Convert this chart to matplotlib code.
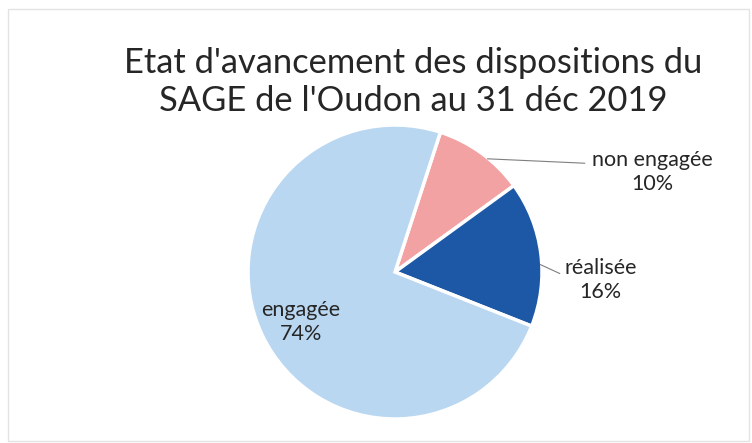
import matplotlib.pyplot as plt
from matplotlib.patches import Rectangle

# data
labels = ["non engagée", "réalisée", "engagée"]
shares = [10, 16, 74]
colors = ["#F3A2A3", "#1D58A7", "#BAD7F2"]
title = "Etat d'avancement des dispositions du\nSAGE de l'Oudon au 31 déc 2019"

plt.rcParams['font.family'] = ['Lato', 'DejaVu Sans']

fig = plt.figure(figsize=(7.52, 4.43), dpi=100)
fig.patches.append(Rectangle((0.011, 0.005), 0.985, 0.975, transform=fig.transFigure,
                             fill=False, edgecolor="#e3e3e3", linewidth=1))

fig.text(0.55, 0.815, title, ha='center', va='center', fontsize=24.8,
         color="#262626", linespacing=1.23)

# pie axes (square, centred on the pie)
r_px = 147
cx, cy = 395, 272
ax = fig.add_axes([(cx - r_px) / 752, (443 - cy - r_px) / 443, 2 * r_px / 752, 2 * r_px / 443])
wedges, _ = ax.pie(shares, colors=colors, startangle=72, counterclock=False, radius=1,
                   wedgeprops=dict(edgecolor="white", linewidth=2.5))
ax.set_xlim(-1, 1)
ax.set_ylim(-1, 1)
ax.set_aspect('equal')
ax.axis('off')

label_pos = [(1.75, 0.68), (1.40, -0.055), (-0.64, -0.34)]
for lab, val, (x, y) in zip(labels, shares, label_pos):
    ax.text(x, y, f"{lab}\n{val}%", ha='center', va='center', fontsize=15.5,
            color="#262626", linespacing=1.3, clip_on=False)

# leader lines
ax.plot([0.63, 1.29], [0.77, 0.74], color="#7f7f7f", lw=0.8, clip_on=False)
ax.plot([0.99, 1.12], [0.05, -0.01], color="#7f7f7f", lw=0.8, clip_on=False)

fig.savefig("out.png", dpi=100)
